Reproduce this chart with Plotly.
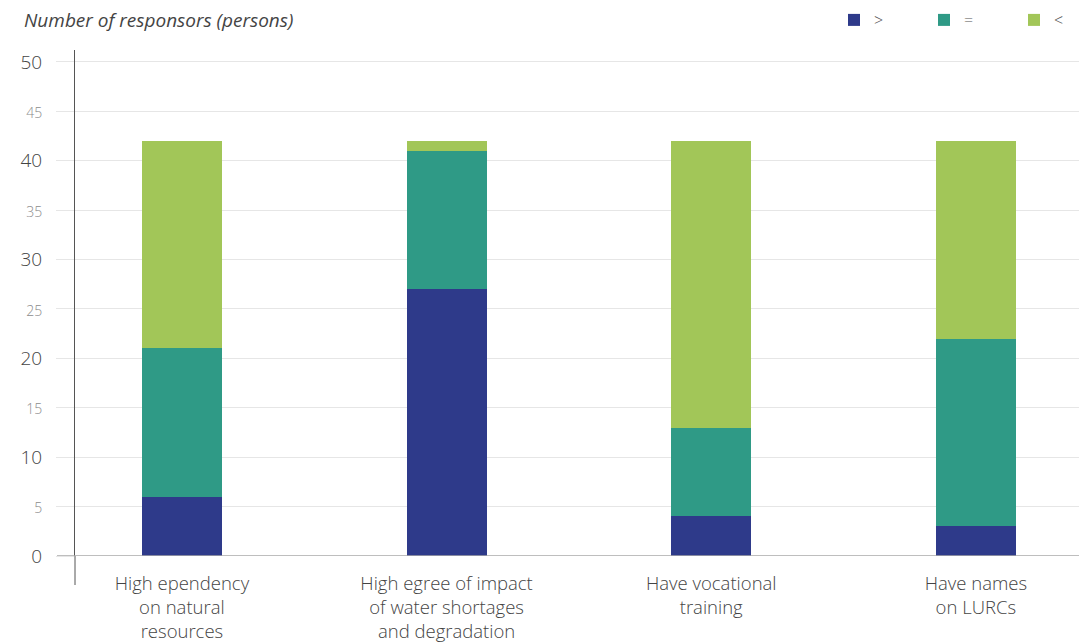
import plotly.graph_objects as go

categories = ["High ependency<br>on natural<br>resources",
              "High egree of impact<br>of water shortages<br>and degradation",
              "Have vocational<br>training",
              "Have names<br>on LURCs"]
greater = [6, 27, 4, 3]
equal = [15, 14, 9, 19]
less = [21, 1, 29, 20]
series_names = [">", "=", "<"]
colors = ["#2e3a8a", "#2f9a86", "#a2c658"]

y_ticks = [0, 5, 10, 15, 20, 25, 30, 35, 40, 45, 50]
y_ticktext = [str(v) if v % 10 == 0 else
              "<span style='font-size:14px;color:#8c8c8c'>%d</span>" % v for v in y_ticks]

W, H = 1079, 634
fig = go.Figure()
for name, vals, col in zip(series_names, [greater, equal, less], colors):
    fig.add_trace(go.Bar(x=list(range(len(categories))), y=vals, name=name,
                         marker=dict(color=col, line=dict(width=0)), width=0.302))

fig.update_layout(
    barmode="stack",
    width=W, height=H,
    margin=dict(l=67, r=0, t=42, b=86, autoexpand=False),
    paper_bgcolor="white", plot_bgcolor="white",
    font=dict(family="Open Sans", color="#444444", size=18),
    showlegend=True,
    legend=dict(orientation="h", xref="container", yref="container",
                xanchor="left", yanchor="middle", x=826/W, y=1 - 12/H,
                entrywidth=45, entrywidthmode="pixels",
                font=dict(size=16, color="#555555", weight=300), traceorder="normal",
                bgcolor="rgba(0,0,0,0)"),
    xaxis=dict(tickmode="array", tickvals=list(range(len(categories))), ticktext=categories,
               range=[-0.404, 3.42], showgrid=False, zeroline=False, showline=False,
               ticks="", ticklabelstandoff=14, automargin=False,
               tickfont=dict(size=18.5, color="#444444", weight=300)),
    yaxis=dict(range=[0, 51.2], tickmode="array", tickvals=y_ticks, ticktext=y_ticktext,
               showgrid=True, gridcolor="#e6e6e6", gridwidth=1, zeroline=False,
               showline=True, linecolor="#555555", linewidth=1, automargin=False,
               ticks="outside", ticklen=18, tickcolor="#e6e6e6", tickwidth=1,
               ticklabelstandoff=10, tickfont=dict(size=19, color="#444444", weight=300)),
    annotations=[dict(text="<i>Number of responsors (persons)</i>", xref="paper", yref="paper",
                      x=-53/1012, y=1 + 30/506, xanchor="left", yanchor="middle",
                      showarrow=False, font=dict(size=19, color="#444444"))],
    shapes=[
        dict(type="line", xref="paper", yref="paper", x0=0, x1=0, y0=-29/506, y1=0,
             line=dict(color="#555555", width=1)),
        dict(type="line", xref="paper", yref="y", x0=-18/1012, x1=1, y0=0, y1=0,
             line=dict(color="#a8a8a8", width=1.5), layer="above"),
    ],
)
fig.write_html("out.html")
